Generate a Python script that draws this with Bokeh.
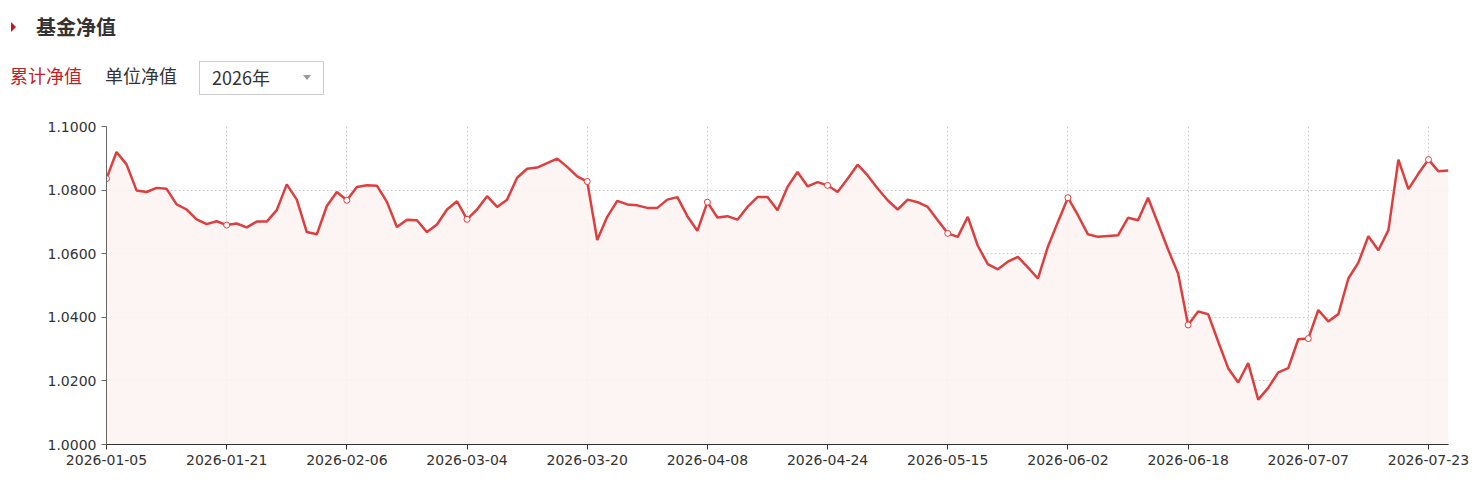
import pandas as pd
from bokeh.plotting import figure
from bokeh.models import Range1d, FixedTicker, ColumnDataSource, Div
from bokeh.layouts import column
from bokeh.embed import file_html
from bokeh.resources import INLINE

# ---------------- data ----------------
holidays = ["2026-02-16", "2026-02-17", "2026-02-18", "2026-02-19", "2026-02-20",
            "2026-02-23", "2026-04-06", "2026-05-01", "2026-05-04", "2026-05-05",
            "2026-06-19"]
trade_days = [d.strftime("%Y-%m-%d") for d in pd.bdate_range("2026-01-05", "2026-07-27")
              if d.strftime("%Y-%m-%d") not in holidays]

nav = [
    1.0836, 1.0920, 1.0881, 1.0799, 1.0794, 1.0807, 1.0804, 1.0755, 1.0739, 1.0708,
    1.0693, 1.0702, 1.0690, 1.0695, 1.0683, 1.0701, 1.0701, 1.0737, 1.0818, 1.0770,
    1.0668, 1.0661, 1.0750, 1.0794, 1.0768, 1.0810, 1.0815, 1.0814, 1.0763, 1.0684,
    1.0707, 1.0705, 1.0668, 1.0692, 1.0739, 1.0765, 1.0708, 1.0739, 1.0781, 1.0747,
    1.0770, 1.0839, 1.0867, 1.0871, 1.0885, 1.0899, 1.0873, 1.0843, 1.0827, 1.0643,
    1.0716, 1.0766, 1.0755, 1.0752, 1.0744, 1.0744, 1.0770, 1.0778, 1.0718, 1.0672,
    1.0762, 1.0714, 1.0718, 1.0707, 1.0747, 1.0778, 1.0778, 1.0737, 1.0810, 1.0857,
    1.0812, 1.0825, 1.0815, 1.0794, 1.0836, 1.0880, 1.0846, 1.0805, 1.0768, 1.0739,
    1.0770, 1.0762, 1.0747, 1.0705, 1.0664, 1.0653, 1.0716, 1.0625, 1.0567, 1.0551,
    1.0575, 1.0590, 1.0557, 1.0522, 1.0622, 1.0700, 1.0776, 1.0721, 1.0661, 1.0653,
    1.0656, 1.0658, 1.0713, 1.0705, 1.0776, 1.0695, 1.0613, 1.0538, 1.0376, 1.0418,
    1.0410, 1.0324, 1.0240, 1.0195, 1.0256, 1.0141, 1.0178, 1.0227, 1.0240, 1.0331,
    1.0333, 1.0423, 1.0387, 1.0410, 1.0522, 1.0572, 1.0655, 1.0611, 1.0674, 1.0896,
    1.0803, 1.0852, 1.0896, 1.0859, 1.0862,
]
n = min(len(nav), len(trade_days))
nav = nav[:n]
trade_days = trade_days[:n]
idx = list(range(n))

y_ticks = [1.0, 1.02, 1.04, 1.06, 1.08, 1.10]
label_step = 12
x_ticks = idx[::label_step]
x_labels = {i: trade_days[i] for i in x_ticks}

title_text = "基金净值"
tab_active = "累计净值"
tab_other = "单位净值"
year_text = "2026年"

RED = "#dd3e3e"
CJK = "Noto Sans CJK SC"
LAT = "DejaVu Sans"
HEADER_H = 110
PAGE_W = 1474

# ---------------- header (HTML text) ----------------
header_html = f"""
<div style="position:relative;width:{PAGE_W}px;height:{HEADER_H}px;font-family:'{CJK}',sans-serif;color:#333333;">
  <span style="position:absolute;left:11px;top:22px;width:0;height:0;
        border-top:5px solid transparent;border-bottom:5px solid transparent;
        border-left:5.5px solid #c8161d;"></span>
  <span style="position:absolute;left:36px;top:17px;font-size:20px;line-height:20px;
        font-weight:bold;white-space:nowrap;">{title_text}</span>
  <span style="position:absolute;left:10px;top:66px;font-size:18px;line-height:18px;
        color:#c0202a;white-space:nowrap;">{tab_active}</span>
  <span style="position:absolute;left:105px;top:66px;font-size:18px;line-height:18px;
        white-space:nowrap;">{tab_other}</span>
  <span style="position:absolute;left:199px;top:61px;width:125px;height:34px;
        box-sizing:border-box;border:1px solid #cccccc;background:#ffffff;"></span>
  <span style="position:absolute;left:212px;top:68px;font-size:18px;line-height:18px;
        white-space:nowrap;">{year_text}</span>
  <span style="position:absolute;left:303px;top:75px;width:0;height:0;
        border-left:4.5px solid transparent;border-right:4.5px solid transparent;
        border-top:5px solid #999999;"></span>
</div>
"""
header = Div(text=header_html, width=PAGE_W, height=HEADER_H, margin=0)

# ---------------- chart ----------------
FL, FT, FW, FH = 106, 126, 1342, 318

p = figure(frame_width=FW, frame_height=FH, min_border_left=FL, min_border_right=PAGE_W - FL - FW,
           min_border_top=FT - HEADER_H, min_border_bottom=40,
           x_range=Range1d(0, n - 1), y_range=Range1d(y_ticks[0], y_ticks[-1]),
           toolbar_location=None, output_backend="svg", outline_line_color=None)

src = ColumnDataSource(dict(x=idx, y=nav, base=[y_ticks[0]] * n))
mk = ColumnDataSource(dict(x=idx[::label_step], y=nav[::label_step]))

p.varea(x="x", y1="base", y2="y", source=src, fill_color="#fdf3f3", fill_alpha=0.9)
p.line(x="x", y="y", source=src, line_color=RED, line_width=2.5)
p.scatter(x="x", y="y", source=mk, size=6, fill_color="white", line_color=RED, line_width=1)

p.xaxis.ticker = FixedTicker(ticks=x_ticks)
p.xaxis.major_label_overrides = x_labels
p.yaxis.ticker = FixedTicker(ticks=y_ticks)
p.yaxis.major_label_overrides = {t: f"{t:.4f}" for t in y_ticks}

for ax in (p.xaxis[0], p.yaxis[0]):
    ax.major_tick_in = 0
    ax.major_tick_out = 5
    ax.minor_tick_out = 0
    ax.minor_tick_in = 0
    ax.major_label_text_font = LAT
    ax.major_label_text_font_size = "14px"
    ax.major_label_text_color = "#333333"
    ax.major_label_standoff = 5
p.xaxis.axis_line_color = "#333333"
p.xaxis.major_tick_line_color = "#333333"
p.yaxis.axis_line_color = "#666666"
p.yaxis.major_tick_line_color = "#666666"

p.xgrid.ticker = FixedTicker(ticks=x_ticks)
p.ygrid.ticker = FixedTicker(ticks=y_ticks)
for g in (p.xgrid[0], p.ygrid[0]):
    g.grid_line_color = "#cccccc"
    g.grid_line_dash = "2 2"
    g.grid_line_width = 1

layout = column(header, p, spacing=0)
open("out.html", "w").write(file_html(layout, INLINE))
